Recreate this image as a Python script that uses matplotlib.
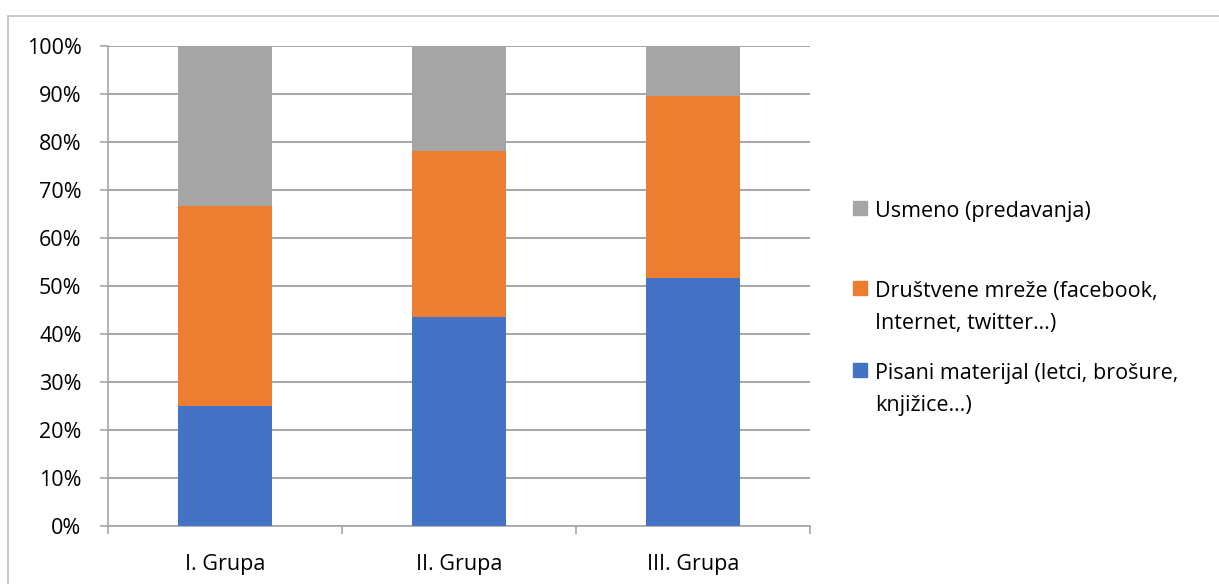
import numpy as np
import matplotlib
matplotlib.use("Agg")
import matplotlib.pyplot as plt
from matplotlib.patches import Rectangle
from matplotlib.ticker import PercentFormatter, FixedLocator

# data (percent shares)
groups = ["I. Grupa", "II. Grupa", "III. Grupa"]
pisani = [25.0, 43.5, 51.7]
drustvene = [41.7, 34.7, 37.9]
usmeno = [33.3, 21.8, 10.4]
series_labels = [
    "Pisani materijal (letci, brošure,\nknjižice…)",
    "Društvene mreže (facebook,\nInternet, twitter…)",
    "Usmeno (predavanja)",
]
colors = ["#4472c4", "#ed7d31", "#a5a5a5"]

plt.rcParams["font.family"] = ["Open Sans", "DejaVu Sans"]
FS = 15.5

W, H = 1219, 584
fig = plt.figure(figsize=(W / 100, H / 100), dpi=100)
ax = fig.add_axes([108 / W, 1 - 526 / H, (810 - 108) / W, (526 - 46) / H])

x = np.arange(len(groups))
bottom = np.zeros(len(groups))
for vals, col in zip([pisani, drustvene, usmeno], colors):
    ax.bar(x, vals, width=0.4, bottom=bottom, color=col, zorder=3)
    bottom += np.array(vals)

ax.set_xlim(-0.5, len(groups) - 0.5)
ax.set_ylim(0, 100)
ax.set_yticks(np.arange(0, 101, 10))
ax.yaxis.set_major_formatter(PercentFormatter(decimals=0))
ax.set_xticks(x)
ax.set_xticklabels(groups)
ax.xaxis.set_minor_locator(FixedLocator(np.arange(-0.5, len(groups), 1)))

gcol = "#a6a6a6"
ax.grid(axis="y", color=gcol, linewidth=1.4, zorder=0)
for s in ["top", "right"]:
    ax.spines[s].set_visible(False)
for s in ["left", "bottom"]:
    ax.spines[s].set_color(gcol)
    ax.spines[s].set_linewidth(1.2)
ax.tick_params(axis="y", length=6, color=gcol, width=1.2, labelsize=FS, pad=13)
ax.tick_params(axis="x", which="major", length=0, labelsize=FS, pad=20)
ax.tick_params(axis="x", which="minor", length=6, color=gcol, width=1.2)

# legend drawn by hand, reversed order like the original
leg_y = [208, 288, 370]
for lbl, col, yy in zip(series_labels[::-1], colors[::-1], leg_y):
    fig.patches.append(Rectangle((853 / W, 1 - (yy + 7) / H), 14 / W, 14 / H,
                                 transform=fig.transFigure, color=col))
    fig.text(875 / W, 1 - (yy - 7) / H, lbl, fontsize=FS, va="top", ha="left",
             linespacing=1.7)

# outer chart border
fig.patches.append(Rectangle((8 / W, -0.1), 1.2, 1 - 16 / H + 0.1, transform=fig.transFigure,
                             fill=False, edgecolor="#bfbfbf", linewidth=1.2))

fig.savefig("out.png", dpi=100)
